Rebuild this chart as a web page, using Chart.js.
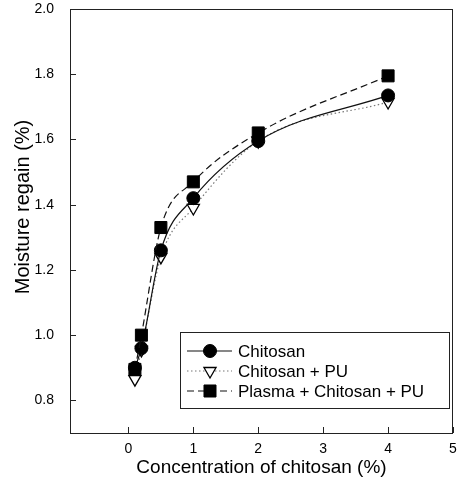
<!DOCTYPE html>
<html><head><meta charset="utf-8">
<script src="https://cdn.jsdelivr.net/npm/chart.js@4/dist/chart.umd.min.js"></script>
<style>html,body{margin:0;padding:0;background:#fff}#wrap{width:457px;height:489px}</style>
</head><body><div id="wrap"><canvas id="c" width="457" height="489"></canvas></div>
<script>
const concentrations = [0.1, 0.2, 0.5, 1, 2, 4];
const chitosan = [0.90, 0.96, 1.26, 1.42, 1.595, 1.735];
const chitosanPU = [0.865, 0.955, 1.24, 1.39, 1.595, 1.715];
const plasmaChitosanPU = [0.895, 1.00, 1.33, 1.47, 1.62, 1.795];
const seriesNames = ['Chitosan', 'Chitosan + PU', 'Plasma + Chitosan + PU'];
const xTicks = [0, 1, 2, 3, 4, 5];
const yTicks = [0.8, 1.0, 1.2, 1.4, 1.6, 1.8, 2.0];
const xLabel = 'Concentration of chitosan (%)';
const yLabel = 'Moisture regain (%)';

const FONT = "'Liberation Sans', Arial, sans-serif";
const toXY = arr => arr.map((v, i) => ({x: concentrations[i], y: v}));

const datasets = [
  {label: seriesNames[0], data: toXY(chitosan), borderColor: '#111', borderWidth: 1.2,
   pointStyle: 'circle', pointRadius: 6.5, pointBackgroundColor: '#000', pointBorderColor: '#000', pointBorderWidth: 1, order: 2},
  {label: seriesNames[1], data: toXY(chitosanPU), borderColor: '#777', borderWidth: 1.2, borderDash: [1.5, 2.5],
   pointStyle: 'triangle', pointRotation: 180, pointRadius: 7, pointBackgroundColor: '#fff', pointBorderColor: '#000', pointBorderWidth: 1.3, order: 3},
  {label: seriesNames[2], data: toXY(plasmaChitosanPU), borderColor: '#111', borderWidth: 1.2, borderDash: [7, 4],
   pointStyle: 'rect', pointRadius: 8.5, pointBackgroundColor: '#000', pointBorderColor: '#000', pointBorderWidth: 1, order: 1}
];

const framePlugin = {
  id: 'frame',
  afterDraw(chart) {
    const {ctx, chartArea: a, scales} = chart;
    ctx.save();
    ctx.strokeStyle = '#222';
    ctx.lineWidth = 1;
    ctx.strokeRect(a.left + 0.5, a.top + 0.5, a.right - a.left - 1, a.bottom - a.top);
    ctx.beginPath();
    xTicks.forEach(v => {
      const px = Math.round(scales.x.getPixelForValue(v)) + 0.5;
      ctx.moveTo(px, a.bottom); ctx.lineTo(px, a.bottom - 6);
    });
    yTicks.forEach(v => {
      const py = Math.round(scales.y.getPixelForValue(v)) + 0.5;
      ctx.moveTo(a.left, py); ctx.lineTo(a.left + 6, py);
    });
    ctx.stroke();
    ctx.fillStyle = '#000';
    ctx.font = '19px ' + FONT;
    ctx.textAlign = 'center';
    ctx.textBaseline = 'middle';
    ctx.fillText(xLabel, (a.left + a.right) / 2, 468);
    ctx.save();
    ctx.translate(23, 207);
    ctx.rotate(-Math.PI / 2);
    ctx.font = '20px ' + FONT;
    ctx.fillText(yLabel, 0, 0);
    ctx.restore();
    ctx.restore();
  }
};

const legendPlugin = {
  id: 'boxLegend',
  afterDraw(chart) {
    const {ctx} = chart;
    const box = {l: 180, t: 332, r: 449, b: 408};
    ctx.save();
    ctx.fillStyle = '#fff';
    ctx.fillRect(box.l, box.t, box.r - box.l, box.b - box.t);
    ctx.strokeStyle = '#222';
    ctx.lineWidth = 1;
    ctx.strokeRect(box.l + 0.5, box.t + 0.5, box.r - box.l, box.b - box.t);
    const rows = [351, 371, 391];
    chart.data.datasets.forEach((ds, i) => {
      const y = rows[i];
      ctx.save();
      ctx.strokeStyle = ds.borderColor;
      ctx.lineWidth = ds.borderWidth;
      ctx.setLineDash(ds.borderDash || []);
      ctx.beginPath();
      ctx.moveTo(187, y); ctx.lineTo(232, y);
      ctx.stroke();
      ctx.restore();
      ctx.save();
      ctx.fillStyle = ds.pointBackgroundColor;
      ctx.strokeStyle = ds.pointBorderColor;
      ctx.lineWidth = ds.pointBorderWidth;
      Chart.helpers.drawPoint(ctx, {pointStyle: ds.pointStyle, rotation: ds.pointRotation || 0,
        radius: ds.pointRadius, borderWidth: ds.pointBorderWidth}, 210, y);
      ctx.restore();
      ctx.fillStyle = '#000';
      ctx.font = '17px ' + FONT;
      ctx.textAlign = 'left';
      ctx.textBaseline = 'middle';
      ctx.fillText(ds.label, 238, y + 1);
    });
    ctx.restore();
  }
};

new Chart(document.getElementById('c'), {
  type: 'line',
  data: {datasets},
  plugins: [framePlugin, legendPlugin],
  options: {
    responsive: false,
    animation: false,
    devicePixelRatio: 1,
    layout: {autoPadding: false, padding: {left: 0, right: 4, top: 9, bottom: 0}},
    elements: {line: {cubicInterpolationMode: 'monotone', fill: false}},
    plugins: {legend: {display: false}, tooltip: {enabled: false}},
    scales: {
      x: {
        type: 'linear', min: -0.9, max: 5,
        afterBuildTicks: s => { s.ticks = xTicks.map(v => ({value: v})); },
        afterFit: s => { s.height = 56; s.paddingLeft = 0; s.paddingRight = 0; },
        grid: {display: false, drawTicks: false},
        border: {display: false},
        ticks: {padding: 0, color: '#000', font: {size: 14, family: FONT, lineHeight: 2.3}, callback: v => String(v), maxRotation: 0}
      },
      y: {
        type: 'linear', min: 0.7, max: 2.0,
        afterBuildTicks: s => { s.ticks = yTicks.map(v => ({value: v})); },
        afterFit: s => { s.width = 70; s.paddingTop = 0; s.paddingBottom = 0; s.paddingLeft = 0; s.paddingRight = 0; },
        grid: {display: false, drawTicks: false},
        border: {display: false},
        ticks: {padding: 16, color: '#000', font: {size: 14, family: FONT}, callback: v => v.toFixed(1)}
      }
    }
  }
});
</script>
</body></html>
